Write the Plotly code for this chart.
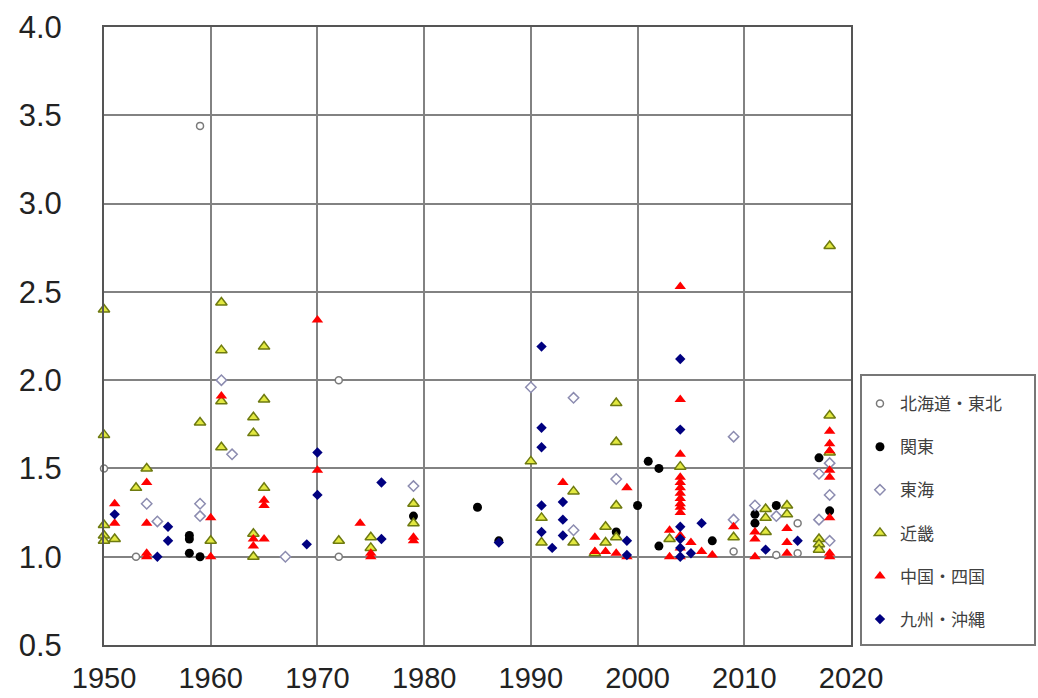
import plotly.graph_objects as go

# ---- data (year, ratio) per region ----
hok_years = [1950, 1953, 1959, 1972, 1972, 2009, 2013, 2015, 2015, 2017]
hok_vals  = [1.50, 1.00, 3.44, 2.00, 1.00, 1.03, 1.01, 1.19, 1.02, 1.05]

kan_years = [1958, 1958, 1958, 1959, 1979, 1985, 1987, 1998, 2000, 2001, 2002, 2002, 2007, 2011, 2011, 2013, 2017, 2018]
kan_vals  = [1.12, 1.10, 1.02, 1.00, 1.23, 1.28, 1.09, 1.14, 1.29, 1.54, 1.50, 1.06, 1.09, 1.24, 1.19, 1.29, 1.56, 1.26]

tok_years = [1954, 1955, 1959, 1959, 1961, 1962, 1967, 1979, 1990, 1994, 1994, 1998, 2009, 2009, 2011, 2013, 2017, 2017, 2018, 2018, 2018]
tok_vals  = [1.30, 1.20, 1.30, 1.23, 2.00, 1.58, 1.00, 1.40, 1.96, 1.90, 1.15, 1.44, 1.68, 1.21, 1.29, 1.23, 1.47, 1.21, 1.53, 1.35, 1.09]

kin_years = [1950, 1950, 1950, 1950, 1950, 1951, 1953, 1954, 1959, 1960,
             1961, 1961, 1961, 1961, 1964, 1964, 1964, 1964, 1965, 1965, 1965,
             1972, 1975, 1975, 1979, 1979, 1990, 1991, 1991, 1994, 1994,
             1996, 1997, 1997, 1998, 1998, 1998, 1998, 2003, 2004, 2009,
             2012, 2012, 2012, 2014, 2014, 2017, 2017, 2017, 2018, 2018, 2018]
kin_vals  = [2.40, 1.69, 1.18, 1.12, 1.09, 1.10, 1.39, 1.50, 1.76, 1.09,
             2.44, 2.17, 1.88, 1.62, 1.79, 1.70, 1.13, 1.00, 2.19, 1.89, 1.39,
             1.09, 1.11, 1.05, 1.30, 1.19, 1.54, 1.22, 1.08, 1.37, 1.08,
             1.02, 1.17, 1.08, 1.87, 1.65, 1.29, 1.11, 1.10, 1.51, 1.11,
             1.27, 1.22, 1.14, 1.29, 1.24, 1.10, 1.07, 1.04, 2.76, 1.80, 1.59]

chu_years = [1951, 1951, 1954, 1954, 1954, 1954, 1960, 1960, 1961, 1964, 1964,
             1965, 1965, 1965, 1970, 1970, 1974, 1975, 1975, 1979, 1979,
             1993, 1996, 1996, 1997, 1998, 1999, 1999, 2003, 2003,
             2004, 2004, 2004, 2004, 2004, 2004, 2004, 2004, 2004, 2004, 2004, 2004, 2004, 2004,
             2005, 2006, 2007, 2009, 2011, 2011, 2011, 2014, 2014, 2014,
             2018, 2018, 2018, 2018, 2018, 2018, 2018, 2018]
chu_vals  = [1.30, 1.19, 1.42, 1.19, 1.02, 1.00, 1.22, 1.00, 1.91, 1.10, 1.06,
             1.32, 1.29, 1.10, 2.34, 1.49, 1.19, 1.02, 1.00, 1.11, 1.09,
             1.42, 1.11, 1.03, 1.03, 1.02, 1.39, 1.00, 1.15, 1.00,
             2.53, 1.89, 1.58, 1.45, 1.42, 1.39, 1.36, 1.33, 1.30, 1.28, 1.25, 1.12, 1.05, 1.00,
             1.08, 1.03, 1.01, 1.17, 1.14, 1.10, 1.00, 1.16, 1.08, 1.02,
             1.71, 1.64, 1.60, 1.49, 1.45, 1.22, 1.02, 1.00]

kyu_years = [1951, 1955, 1956, 1956, 1969, 1970, 1970, 1976, 1976, 1987,
             1991, 1991, 1991, 1991, 1991, 1992, 1993, 1993, 1993, 1999, 1999,
             2004, 2004, 2004, 2004, 2004, 2004, 2005, 2006, 2012, 2015]
kyu_vals  = [1.24, 1.00, 1.17, 1.09, 1.07, 1.59, 1.35, 1.42, 1.10, 1.08,
             2.19, 1.73, 1.62, 1.29, 1.14, 1.05, 1.31, 1.21, 1.12, 1.09, 1.01,
             2.12, 1.72, 1.17, 1.10, 1.05, 1.00, 1.02, 1.19, 1.04, 1.09]

x_ticks = [1950, 1960, 1970, 1980, 1990, 2000, 2010, 2020]
y_ticks = [0.5, 1.0, 1.5, 2.0, 2.5, 3.0, 3.5, 4.0]

series = [
    ("北海道・東北", hok_years, hok_vals, dict(symbol="circle", size=7, color="white", line=dict(color="#7a7a7a", width=1.5))),
    ("関東", kan_years, kan_vals, dict(symbol="circle", size=9, color="black", line=dict(color="black", width=0))),
    ("東海", tok_years, tok_vals, dict(symbol="diamond", size=8, color="white", line=dict(color="#8c8cb0", width=1.5))),
    ("近畿", kin_years, kin_vals, dict(symbol="triangle-up", size=10, color="#e2e840", line=dict(color="#6e7a10", width=1.5))),
    ("中国・四国", chu_years, chu_vals, dict(symbol="triangle-up", size=10, color="#ff0000", line=dict(color="#ff0000", width=0))),
    ("九州・沖縄", kyu_years, kyu_vals, dict(symbol="diamond", size=8, color="#000080", line=dict(color="#000080", width=0))),
]

fig = go.Figure()
for i, (name, xs, ys, mk) in enumerate(series):
    fig.add_trace(go.Scatter(x=xs, y=ys, mode="markers", name=name, marker=mk,
                             legendgroup=f"g{i}", cliponaxis=False))

grid_col = "#828282"
L, R, T, B = 104, 1038 - 851, 27, 698 - 645
fig.update_layout(
    width=1038, height=698,
    margin=dict(l=L, r=R, t=T, b=B, autoexpand=False),
    paper_bgcolor="white", plot_bgcolor="white",
    font=dict(family="Liberation Sans, Arial, sans-serif", color="#222"),
    xaxis=dict(range=[1950, 2020], tickvals=x_ticks, ticktext=[str(v) for v in x_ticks],
               showgrid=True, gridcolor=grid_col, gridwidth=2, zeroline=False,
               showline=True, linecolor="#555", linewidth=2, mirror=True, automargin=False,
               ticks="", tickfont=dict(size=29, color="#222"), ticklabelstandoff=6),
    yaxis=dict(range=[0.5, 4.0], tickvals=y_ticks, ticktext=[f"{v:.1f}" for v in y_ticks],
               showgrid=True, gridcolor=grid_col, gridwidth=2, zeroline=False,
               showline=True, linecolor="#555", linewidth=2, mirror=True, automargin=False,
               ticks="", tickfont=dict(size=31, color="#222"), ticklabelstandoff=34),
    legend=dict(x=1.012, xanchor="left", y=0.419, yanchor="top",
                font=dict(family="Noto Sans CJK JP", size=17, color="#404040"),
                bgcolor="rgba(0,0,0,0)", borderwidth=0, tracegroupgap=18, itemwidth=30),
    shapes=[dict(type="rect", xref="paper", yref="paper",
                 x0=(861 - 104) / 747, x1=(1035 - 104) / 747, y0=0.0, y1=(645 - 375) / 618,
                 line=dict(color="#777", width=2), fillcolor="rgba(0,0,0,0)", layer="below")],
)

fig.write_html("out.html")
